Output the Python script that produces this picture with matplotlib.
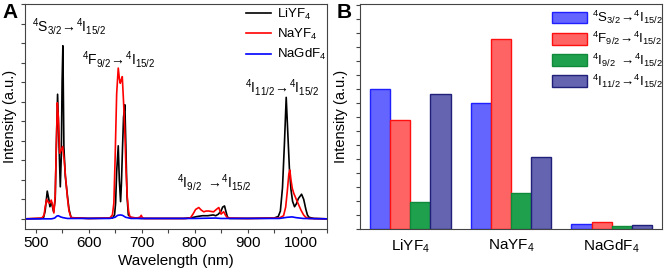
import matplotlib
matplotlib.use("Agg")
import matplotlib.pyplot as plt
from matplotlib.ticker import MultipleLocator, NullFormatter
import numpy as np

plt.rcParams['font.family'] = ['Liberation Sans', 'DejaVu Sans']
plt.rcParams['mathtext.fontset'] = 'custom'
plt.rcParams['mathtext.rm'] = 'Liberation Sans'
plt.rcParams['mathtext.it'] = 'Liberation Sans:italic'
plt.rcParams['mathtext.bf'] = 'Liberation Sans:bold'

# ---------------- Panel A data (emission spectra) ----------------
wl_liyf4 = [480, 510, 515, 518, 522, 525, 527, 530, 534, 537, 539, 541.5, 544, 546.6, 548.5, 550,
            551.5, 553.4, 556, 560, 563, 567, 600, 645, 649, 651, 653, 656, 658, 660.4, 662, 664,
            666, 668.5, 670.5, 672.5, 675, 680, 700, 780, 795, 805, 815, 825, 835, 840, 845, 850,
            853, 856.6, 859, 862, 866, 900, 950, 958, 962, 966, 969.7, 973, 976, 979, 982, 985,
            988.7, 992, 996, 1002, 1006, 1010, 1013, 1016, 1025, 1050]
int_liyf4 = [0, 0.01, 0.03, 0.2, 0.71, 0.5, 0.31, 0.42, 0.18, 0.5, 1.8, 3.19, 2.0, 0.82, 1.6, 3.5,
             4.43, 1.85, 1.1, 0.6, 0.25, 0.03, 0.01, 0.02, 0.1, 0.4, 1.2, 1.87, 1.0, 0.44, 0.9, 1.8,
             2.6, 2.92, 1.8, 0.6, 0.1, 0.03, 0.01, 0.01, 0.03, 0.06, 0.08, 0.08, 0.1, 0.08, 0.12, 0.2,
             0.3, 0.33, 0.2, 0.05, 0.01, 0.01, 0.02, 0.06, 0.2, 0.8, 1.94, 3.11, 2.2, 1.3, 0.75, 0.45,
             0.31, 0.38, 0.52, 0.63, 0.5, 0.25, 0.1, 0.04, 0.01, 0]

wl_nayf4 = [480, 512, 516, 518, 521, 524, 526.4, 529.6, 532, 534.5, 537, 539, 541, 543, 545.5, 548,
            551, 554, 557, 560, 563, 567, 600, 640, 645, 647.7, 650, 653, 656, 658, 659.8, 661.5,
            663.6, 666, 668.5, 670.5, 673, 675.5, 678, 690, 697, 699.4, 701.5, 705, 785, 792.5, 797,
            802, 808, 813, 817.5, 822, 827, 831, 836, 841, 845.8, 850, 853, 855, 859, 863, 900, 960,
            968, 972, 975, 978, 979.8, 982, 984.5, 987.4, 992, 996.8, 1001, 1005.8, 1010, 1015, 1050]
int_nayf4 = [0, 0.02, 0.1, 0.3, 0.5, 0.42, 0.4, 0.48, 0.35, 0.15, 0.6, 1.8, 2.97, 2.6, 1.68, 1.75,
             1.85, 1.5, 1.0, 0.55, 0.2, 0.03, 0.01, 0.02, 0.1, 0.4, 1.5, 3.2, 3.86, 3.6, 3.47, 3.55,
             3.64, 3.0, 2.2, 1.3, 0.56, 0.2, 0.05, 0.02, 0.04, 0.09, 0.03, 0.01, 0.01, 0.03, 0.12,
             0.24, 0.29, 0.22, 0.18, 0.2, 0.2, 0.19, 0.18, 0.24, 0.29, 0.12, 0.16, 0.18, 0.08, 0.02,
             0.01, 0.02, 0.08, 0.3, 0.7, 1.15, 1.25, 1.0, 0.78, 0.65, 0.5, 0.35, 0.22, 0.1, 0.04,
             0.01, 0]

wl_nagdf4 = [480, 530, 536, 540, 543, 547, 552, 560, 640, 650, 655, 660, 664, 670, 680, 800, 840,
             850, 960, 975, 984, 992, 1005, 1050]
int_nagdf4 = [0, 0, 0.02, 0.07, 0.08, 0.05, 0.03, 0.01, 0.01, 0.04, 0.09, 0.1, 0.09, 0.04, 0.01,
              0.01, 0.02, 0.01, 0.01, 0.04, 0.05, 0.03, 0.01, 0]

series_names = [r'LiYF$_4$', r'NaYF$_4$', r'NaGdF$_4$']
series_colors = ['black', 'red', 'blue']

transitions = [r'$\mathregular{^4S_{3/2}\!\rightarrow\!{}^4I_{15/2}}$',
               r'$\mathregular{^4F_{9/2}\!\rightarrow\!{}^4I_{15/2}}$',
               r'$\mathregular{^4I_{9/2}\ \rightarrow\!{}^4I_{15/2}}$',
               r'$\mathregular{^4I_{11/2}\!\rightarrow\!{}^4I_{15/2}}$']

# ---------------- Panel B data (integrated intensities) ----------------
hosts = [r'LiYF$_4$', r'NaYF$_4$', r'NaGdF$_4$']
val_S32 = [5.0, 4.5, 0.17]
val_F92 = [3.9, 6.79, 0.24]
val_I92 = [0.97, 1.3, 0.1]
val_I112 = [4.82, 2.58, 0.13]

bar_fill = ['#6464ff', '#ff6464', '#1fa04c', '#6464b0']
bar_edge = ['#2020ff', '#ff1010', '#108a3a', '#20207a']

W, H = 664, 273
fig = plt.figure(figsize=(W / 100, H / 100), dpi=100)

spine_col = '#444444'

# ---------------- Panel A ----------------
axA = fig.add_axes([25 / W, 44 / H, 302 / W, 225 / H])
for wl, it, c, n in zip([wl_liyf4, wl_nayf4, wl_nagdf4], [int_liyf4, int_nayf4, int_nagdf4],
                        series_colors, series_names):
    axA.plot(wl, it, color=c, lw=1.2, label=n)
axA.set_xlim(480, 1050)
axA.set_ylim(-0.26, 5.5)
axA.xaxis.set_major_locator(MultipleLocator(100))
axA.xaxis.set_minor_locator(MultipleLocator(50))
axA.yaxis.set_major_locator(MultipleLocator(0.5))
axA.yaxis.set_major_formatter(NullFormatter())
axA.tick_params(axis='both', which='both', direction='out', color=spine_col, width=0.8)
axA.tick_params(axis='x', which='major', length=3, labelsize=11, pad=2)
axA.tick_params(axis='x', which='minor', length=3)
axA.tick_params(axis='y', which='major', length=3)
axA.set_xlabel('Wavelength (nm)', fontsize=11, labelpad=3)
axA.set_ylabel('Intensity (a.u.)', fontsize=10.5)
axA.yaxis.set_label_coords(-0.027, 0.5)
for s in axA.spines.values():
    s.set_color(spine_col)
    s.set_linewidth(0.8)

ann_pos = [(494, 4.92), (588, 4.07), (767, 0.92), (896, 3.35)]
for t, (x, y) in zip(transitions, ann_pos):
    axA.text(x, y, t, fontsize=10, ha='left', va='center')

legA = axA.legend(loc='upper left', bbox_to_anchor=(0.722, 1.0), frameon=False, fontsize=9.5,
                  handlelength=1.9, handletextpad=0.5, labelspacing=0.4, borderpad=0.2,
                  borderaxespad=0)

fig.text(2 / W, 1 - 3 / H, 'A', fontsize=15, fontweight='bold', ha='left', va='top')

# ---------------- Panel B ----------------
axB = fig.add_axes([360 / W, 44 / H, 302 / W, 225 / H])
x = np.arange(len(hosts))
bw = 0.2
for i, (vals, lab) in enumerate(zip([val_S32, val_F92, val_I92, val_I112], transitions)):
    axB.bar(x + (i - 1.5) * bw, vals, width=bw, color=bar_fill[i], edgecolor=bar_edge[i],
            linewidth=1.0, label=lab)
axB.set_xlim(-0.5, 2.5)
axB.set_ylim(0, 8.04)
axB.set_xticks(x)
axB.set_xticklabels(hosts, fontsize=11)
axB.yaxis.set_major_locator(MultipleLocator(0.5))
axB.yaxis.set_major_formatter(NullFormatter())
axB.tick_params(axis='x', length=0, pad=6)
axB.tick_params(axis='y', direction='out', length=3, color=spine_col, width=0.8)
axB.set_ylabel('Intensity (a.u.)', fontsize=10.5)
axB.yaxis.set_label_coords(-0.04, 0.5)
for s in axB.spines.values():
    s.set_color(spine_col)
    s.set_linewidth(0.8)

legB = axB.legend(loc='upper left', bbox_to_anchor=(0.628, 0.99), frameon=False, fontsize=9.5,
                  handlelength=2.6, handleheight=1.0, handletextpad=0.4, labelspacing=0.3,
                  borderpad=0.2, borderaxespad=0)

fig.text(337 / W, 1 - 3 / H, 'B', fontsize=15, fontweight='bold', ha='left', va='top')

fig.savefig('out.png', dpi=100)
